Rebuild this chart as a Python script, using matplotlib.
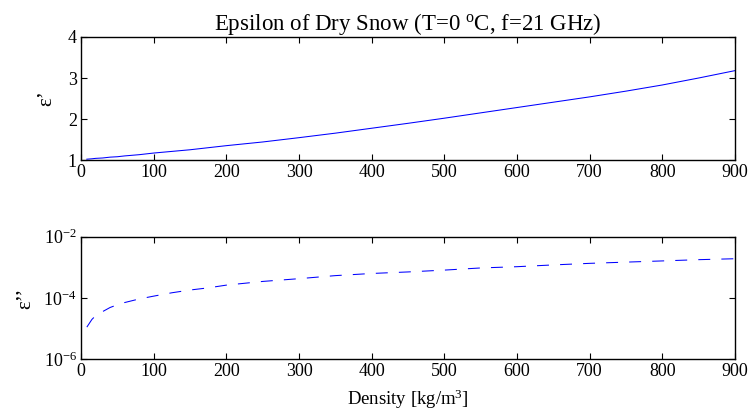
import matplotlib
matplotlib.use("Agg")
import matplotlib.pyplot as plt
import numpy as np

# ---- data ----
density = [8, 15, 20, 30, 40, 50, 60, 80, 100, 125, 150, 175, 200, 250, 300,
           350, 400, 450, 500, 550, 600, 650, 700, 750, 800, 850, 900]
eps_real = [1.02, 1.03, 1.04, 1.05, 1.07, 1.08, 1.10, 1.13, 1.17, 1.21, 1.25,
            1.30, 1.35, 1.44, 1.545, 1.655, 1.775, 1.895, 2.02, 2.15, 2.28,
            2.41, 2.54, 2.68, 2.83, 3.00, 3.18]
eps_imag = [1.12e-5, 2.0e-5, 2.63e-5, 3.63e-5, 4.9e-5, 6.0e-5, 7.1e-5, 9.3e-5,
            1.15e-4, 1.48e-4, 1.82e-4, 2.14e-4, 2.63e-4, 3.47e-4, 4.27e-4,
            5.37e-4, 6.31e-4, 7.08e-4, 8.13e-4, 9.55e-4, 1.05e-3, 1.20e-3,
            1.35e-3, 1.48e-3, 1.62e-3, 1.78e-3, 1.91e-3]
x_ticks = [0, 100, 200, 300, 400, 500, 600, 700, 800, 900]
title = "Epsilon of Dry Snow (T=0 $^{\\mathrm{o}}$C, f=21 GHz)"

plt.rcParams['font.family'] = ['Liberation Serif', 'DejaVu Serif']
plt.rcParams['mathtext.fontset'] = 'custom'
plt.rcParams['mathtext.rm'] = 'Liberation Serif'
plt.rcParams['mathtext.it'] = 'Liberation Serif:italic'
plt.rcParams['lines.scale_dashes'] = False
fs = 13

fig = plt.figure(figsize=(7.53, 4.19), dpi=100)
ax1 = fig.add_axes([0.1076, 0.6181, 0.8685, 0.2936])
ax2 = fig.add_axes([0.1076, 0.1425, 0.8685, 0.2926])

ax1.plot(density, eps_real, color=(0, 0, 1), lw=0.75)
ax1.set_xlim(0, 900)
ax1.set_ylim(1, 4)
ax1.set_yticks([1, 2, 3, 4])
ax1.set_xticks(x_ticks)
ax1.set_ylabel("ε’", fontsize=15, labelpad=8)
ax1.set_title(title, fontsize=16.5, pad=5)

ax2.plot(density, eps_imag, color=(0, 0, 1), lw=0.75, dashes=(8.6, 8))
ax2.set_yscale('log')
ax2.set_xlim(0, 900)
ax2.set_ylim(1e-6, 1e-2)
ax2.set_yticks([1e-6, 1e-4, 1e-2])
ax2.minorticks_off()
ax2.set_xticks(x_ticks)
ax2.set_ylabel("ε’’", fontsize=15, labelpad=6)
ax2.set_xlabel("Density [kg/m$^3$]", fontsize=13.5, labelpad=5)

for ax in (ax1, ax2):
    ax.tick_params(direction='in', top=True, right=True, length=4,
                   width=0.8, labelsize=fs, pad=3)
    for s in ax.spines.values():
        s.set_linewidth(1.0)

fig.savefig("out.png", dpi=100)
